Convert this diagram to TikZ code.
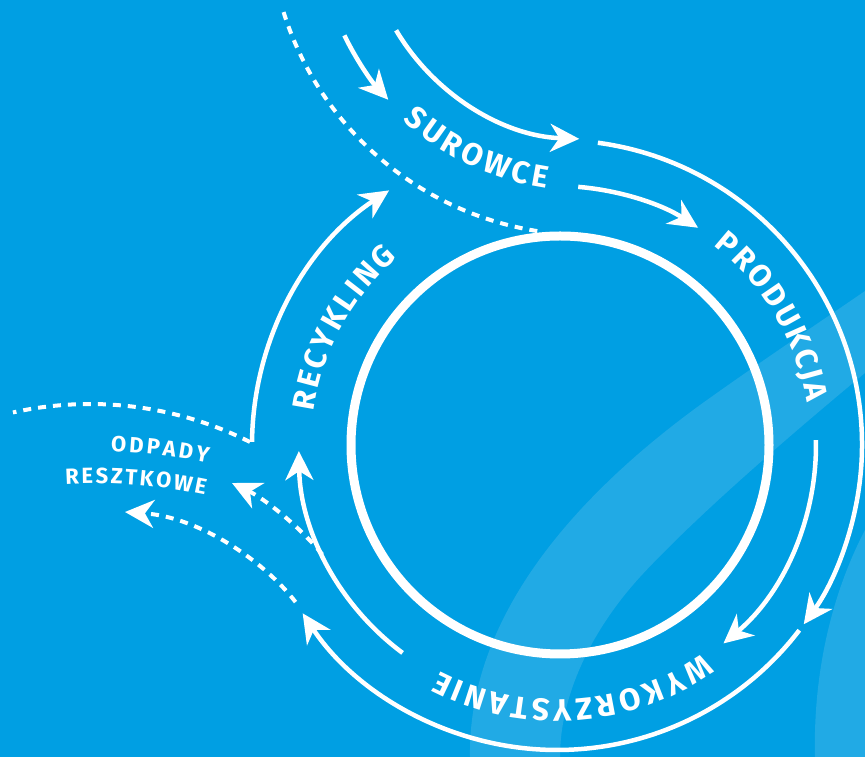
\documentclass[tikz,border=0pt]{standalone}
\usepackage{fontspec}
\setmainfont{Fira Sans}
\usetikzlibrary{arrows.meta,calc}
\definecolor{bgblue}{RGB}{0,159,227}
\definecolor{bandblue}{RGB}{33,170,229}
\newdimen\letw
\def\bigfont{\bfseries\fontsize{31}{33}\selectfont}
\def\smallfont{\bfseries\fontsize{22}{24}\selectfont}
% measure letter widths outside the picture: #1 list name, #2 font, #3 letters
\newcommand\measureword[3]{%
  \gdef\mwlist{}\gdef\mwsep{}%
  \foreach \ch in {#3}{%
    \setbox0=\hbox{#2\ch}\letw=\wd0
    \pgfmathsetmacro\lw{\letw}%
    \xdef\mwlist{\mwlist\mwsep\ch/\lw}\gdef\mwsep{,}%
  }%
  \global\expandafter\let\csname wl#1\endcsname\mwlist
}
\measureword{pro}{\bigfont}{P,R,O,D,U,K,C,J,A}
\measureword{wyk}{\bigfont}{W,Y,K,O,R,Z,Y,S,T,A,N,I,E}
\measureword{rec}{\bigfont}{R,E,C,Y,K,L,I,N,G}
\measureword{sur}{\bigfont}{S,U,R,O,W,C,E}
\measureword{odp}{\smallfont}{O,D,P,A,D,Y}
\measureword{res}{\smallfont}{R,E,S,Z,T,K,O,W,E}
% #1 list name, #2 centre coordinate, #3 radius, #4 middle angle, #5 dir (1 cw, -1 ccw), #6 tracking, #7 font
\newcommand\ringword[7]{%
  \expandafter\let\expandafter\curlist\csname wl#1\endcsname
  \gdef\wtot{0}%
  \foreach \ch/\w in \curlist {%
    \pgfmathsetmacro\tmp{\wtot+\w+#6}\xdef\wtot{\tmp}%
  }%
  \pgfmathsetmacro\tmp{\wtot-#6}\xdef\wtot{\tmp}%
  \pgfmathsetmacro\tmp{#4+#5*(\wtot/2)/(#3)*180/pi}\xdef\wstart{\tmp}%
  \gdef\wacc{0}%
  \foreach \ch/\w [count=\i] in \curlist {%
    \pgfmathsetmacro\ang{\wstart-#5*(\wacc+0.5*\w)/(#3)*180/pi}%
    \pgfmathsetmacro\rot{\ang-#5*90}%
    \node[letter,font=#7,rotate=\rot] (#1-\i) at ($(#2)+(\ang:#3)$) {\ch};
    \pgfmathsetmacro\tmp{\wacc+\w+#6}\xdef\wacc{\tmp}%
  }%
}
\tikzset{
  letter/.style={text=white,inner sep=0pt,text height=0.69em,text depth=0pt},
  ringline/.style={draw=white,line width=4.5pt},
  innerline/.style={draw=white,line width=9pt},
  dotline/.style={draw=white,line width=4pt,dash pattern=on 8pt off 7pt},
  tip/.style={-{Stealth[length=29pt,width=28pt,inset=9pt]}},
}
\begin{document}
\begin{tikzpicture}[x=1pt,y=1pt]
\useasboundingbox (0,0) rectangle (865,757);
\fill[bgblue] (0,0) rectangle (865,757);
% light background swooshes
\fill[bandblue] (470,0) .. controls (468,130) and (560,250) .. (700,352)
  .. controls (760,395) and (820,435) .. (865,466) -- (865,384)
  .. controls (800,330) and (700,245) .. (640,180)
  .. controls (590,125) and (560,60) .. (560,0) -- cycle;
\fill[bandblue] (815,0) .. controls (813,80) and (830,160) .. (865,227) -- (865,0) -- cycle;

% centres
\coordinate (O) at (557,312);
\coordinate (Oi) at (560,312);
\coordinate (I) at (587,840);
\coordinate (C2) at (90,-3);
\coordinate (C3) at (95,-256);

% inner circle
\draw[innerline] (Oi) circle[radius=209];

% incoming band
\coordinate (ds) at ($(I)+(197.4:318)$);
\draw[dotline] (ds) arc[start angle=197.4,end angle=262,radius=318];
\coordinate (ms) at ($(I)+(206:270)$);
\draw[ringline,tip] (ms) arc[start angle=206,end angle=222.6,radius=270];
\coordinate (os) at ($(I)+(210.7:222)$);
\draw[ringline,tip] (os) arc[start angle=210.7,end angle=268,radius=222];

% outer ring
\coordinate (r1) at ($(O)+(82.3:305)$);
\draw[ringline,tip] (r1) arc[start angle=82.3,end angle=-36,radius=305];
\coordinate (r2) at ($(O)+(-37.4:305)$);
\draw[ringline,tip] (r2) arc[start angle=-37.4,end angle=-146.5,radius=305];
\coordinate (r3) at ($(O)+(179.4:305)$);
\draw[ringline,tip] (r3) arc[start angle=179.4,end angle=123.4,radius=305];

% middle ring
\coordinate (m1) at ($(O)+(85.3:259)$);
\draw[ringline,tip] (m1) arc[start angle=85.3,end angle=57,radius=259];
\coordinate (m2) at ($(O)+(1.1:259)$);
\draw[ringline,tip] (m2) arc[start angle=1.1,end angle=-50,radius=259];
\coordinate (m3) at ($(O)+(233.4:259)$);
\draw[ringline,tip] (m3) arc[start angle=233.4,end angle=181,radius=257];

% waste outflows
\coordinate (w0) at ($(C2)+(63.3:356)$);
\draw[dotline] (w0) arc[start angle=63.3,end angle=102.5,radius=356];
\coordinate (d1s) at ($(O)+(205:259)$);
\coordinate (d1e) at (232,274);
\draw[dotline,tip] (d1s) .. controls (300,230) and (265,258) .. (d1e);
\coordinate (d2s) at ($(O)+(211:305)$);
\coordinate (d2e) at (125,245);
\draw[dotline,tip] (d2s) .. controls (265,195) and (200,240) .. (d2e);

% labels
\ringword{pro}{O}{257}{30.7}{1}{3}{\bigfont}
\ringword{wyk}{O}{258}{-86.2}{1}{3.5}{\bigfont}
\ringword{rec}{O}{249}{151.3}{1}{3}{\bigfont}
\ringword{sur}{I}{271}{244.7}{-1}{3.5}{\bigfont}
\ringword{odp}{C3}{565}{83.4}{1}{3}{\smallfont}
\ringword{res}{C3}{533}{85.6}{1}{2.5}{\smallfont}
\end{tikzpicture}
\end{document}
